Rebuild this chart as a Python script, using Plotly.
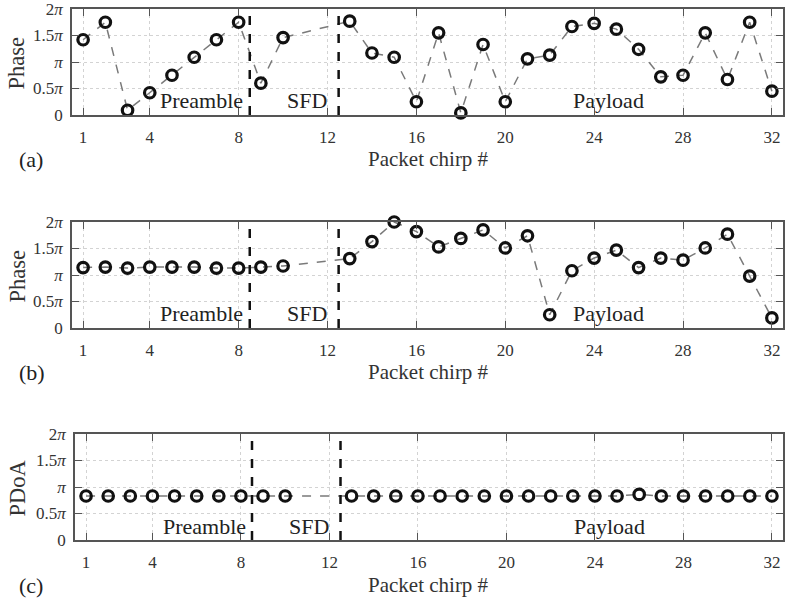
import plotly.graph_objects as go

# Packet chirp indices (chirps 11 and 12 are not sampled)
chirps = [1, 2, 3, 4, 5, 6, 7, 8, 9, 10, 13, 14, 15, 16, 17, 18, 19, 20, 21, 22,
          23, 24, 25, 26, 27, 28, 29, 30, 31, 32]

# Phase values in units of pi
phase_a = [1.42, 1.75, 0.09, 0.42, 0.75, 1.09, 1.42, 1.75, 0.60, 1.46,
           1.77, 1.17, 1.09, 0.25, 1.55, 0.04, 1.33, 0.25, 1.06, 1.13,
           1.67, 1.73, 1.62, 1.24, 0.72, 0.75, 1.55, 0.67, 1.75, 0.45]
phase_b = [1.14, 1.15, 1.13, 1.15, 1.15, 1.15, 1.13, 1.13, 1.15, 1.17,
           1.31, 1.63, 2.00, 1.82, 1.53, 1.69, 1.85, 1.51, 1.74, 0.25,
           1.08, 1.32, 1.47, 1.14, 1.32, 1.28, 1.51, 1.77, 0.98, 0.19]
pdoa_c = [0.83, 0.83, 0.83, 0.83, 0.83, 0.83, 0.83, 0.83, 0.83, 0.83,
          0.83, 0.83, 0.83, 0.83, 0.83, 0.83, 0.83, 0.83, 0.83, 0.83,
          0.83, 0.83, 0.83, 0.86, 0.83, 0.83, 0.83, 0.83, 0.83, 0.83]

boundaries = [8.5, 12.5]
section_labels = ["Preamble", "SFD", "Payload"]
x_ticks = [1, 4, 8, 12, 16, 20, 24, 28, 32]
y_tickvals = [0, 0.5, 1, 1.5, 2]
y_ticktext = ["0", "0.5<i>π</i>", "<i>π</i>", "1.5<i>π</i>", "2<i>π</i>"]
panel_tags = ["(a)", "(b)", "(c)"]
y_titles = ["Phase", "Phase", "PDoA"]
x_title = "Packet chirp #"

W, H = 785, 602
FONT = "Liberation Serif"

def px_y(p):
    return (H - p) / H

def px_x(p):
    return p / W

# panel geometry (pixels)
panels = [
    dict(x0=72, x1=783, top=9, bot=115),
    dict(x0=72, x1=783, top=222, bot=328),
    dict(x0=75, x1=783, top=434, bot=540),
]
series = [phase_a, phase_b, pdoa_c]

fig = go.Figure()
annotations = []
shapes = []

for i, (pn, ys) in enumerate(zip(panels, series)):
    n = "" if i == 0 else str(i + 1)
    xa, ya = "x" + n, "y" + n
    fig.add_trace(go.Scatter(
        x=chirps, y=ys, xaxis=xa, yaxis=ya, mode="lines+markers",
        line=dict(color="#7a7a7a", width=1.5, dash="dash"),
        marker=dict(symbol="circle-open", size=10.5, color="#111111",
                    line=dict(width=3.2, color="#111111")),
        showlegend=False, cliponaxis=False, hoverinfo="skip"))
    axis_common = dict(
        automargin=False, ticklabeloverflow="allow",
        showline=True, linecolor="#555555", linewidth=1.5, mirror="ticks",
        ticks="inside", ticklen=7, tickcolor="#555555", tickwidth=1.3,
        showgrid=True, gridcolor="#d3d3d3", griddash="dot", gridwidth=1,
        zeroline=False, tickfont=dict(family=FONT, size=17, color="#333333"))
    fig.update_layout(**{
        "xaxis" + n: dict(domain=[px_x(pn["x0"]), px_x(pn["x1"])], anchor=ya,
                          range=[0.5, 32.5], tickvals=x_ticks,
                          ticklabelstandoff=6, **axis_common),
        "yaxis" + n: dict(domain=[px_y(pn["bot"]), px_y(pn["top"])], anchor=xa,
                          range=[0, 2], tickvals=y_tickvals, ticktext=y_ticktext,
                          ticklabelstandoff=4, **axis_common),
    })
    for b in boundaries:
        shapes.append(dict(type="line", xref=xa, yref=ya + " domain",
                           x0=b, x1=b, y0=0, y1=1,
                           line=dict(color="#111111", width=2.5, dash="dash")))
    # section labels
    label_y = 0.28 if i < 2 else 0.26
    lab_font = dict(family=FONT, size=22, color="#222222")
    annotations.append(dict(xref=xa, yref=ya, x=8.3, y=label_y, text=section_labels[0],
                            xanchor="right", yanchor="middle", showarrow=False,
                            font=lab_font))
    annotations.append(dict(xref=xa, yref=ya, x=12.05, y=label_y, text=section_labels[1],
                            xanchor="right", yanchor="middle", showarrow=False,
                            font=lab_font))
    annotations.append(dict(xref=xa, yref=ya, x=24.65, y=label_y, text=section_labels[2],
                            xanchor="center", yanchor="middle", showarrow=False,
                            font=lab_font))
    # y title
    annotations.append(dict(xref="paper", yref="paper", x=px_x(16.5),
                            y=px_y((pn["top"] + pn["bot"]) / 2 + 1), text=y_titles[i],
                            textangle=-90, xanchor="center", yanchor="middle",
                            showarrow=False,
                            font=dict(family=FONT, size=22.5, color="#333333")))
    # x title and panel tag
    label_row = pn["bot"] + 44 if i < 2 else pn["bot"] + 45
    annotations.append(dict(xref="paper", yref="paper", x=px_x(428), y=px_y(label_row),
                            text=x_title, xanchor="center", yanchor="middle",
                            showarrow=False,
                            font=dict(family=FONT, size=21, color="#333333")))
    annotations.append(dict(xref="paper", yref="paper", x=px_x(17), y=px_y(label_row),
                            text=panel_tags[i], xanchor="left", yanchor="middle",
                            showarrow=False,
                            font=dict(family=FONT, size=22, color="#222222")))

fig.update_layout(width=W, height=H, margin=dict(l=0, r=0, t=0, b=0, autoexpand=False),
                  paper_bgcolor="white", plot_bgcolor="white",
                  annotations=annotations, shapes=shapes,
                  font=dict(family=FONT), hovermode=False)
fig.write_html("out.html", config={"displayModeBar": False},
               post_script="document.body.style.margin='0px';"
                           "document.body.style.overflow='hidden';")
